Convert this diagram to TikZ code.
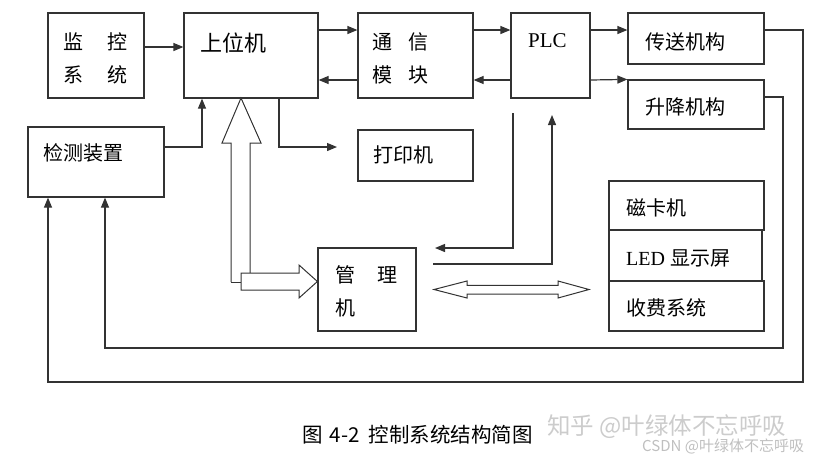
\documentclass[tikz,border=0pt]{standalone}
\usepackage{fontspec}
\setmainfont{Liberation Serif}
\newfontfamily\cjk{Noto Sans CJK SC}
\usetikzlibrary{arrows.meta}
\definecolor{ln}{HTML}{333333}
\tikzset{
  box/.style={draw=ln, line width=1.2pt, rectangle, inner sep=0pt},
  lbl/.style={inner sep=0pt, anchor=west, font=\cjk\fontsize{20}{20}\selectfont},
  arr/.style={draw=ln, line width=1.2pt, -{Triangle[length=10pt,width=8pt]}},
  conn/.style={draw=ln, line width=1.2pt},
  hollow/.style={draw=ln, line width=1pt, fill=white}
}
\begin{document}
\begin{tikzpicture}[x=1pt,y=-1pt]
\useasboundingbox (0,0) rectangle (837,461);
% boxes
\node[box, minimum width=96pt, minimum height=85pt] (mon) at (96,55.5) {};
\node[box, minimum width=134pt, minimum height=85pt] (upc) at (251,55.5) {};
\node[box, minimum width=115pt, minimum height=85pt] (com) at (415.5,55.5) {};
\node[box, minimum width=79pt, minimum height=85pt] (plc) at (550.5,55.5) {};
\node[box, minimum width=136pt, minimum height=51pt] (tra) at (696,38.5) {};
\node[box, minimum width=136pt, minimum height=49pt] (lif) at (696,104.5) {};
\node[box, minimum width=136pt, minimum height=70pt] (det) at (96,162) {};
\node[box, minimum width=115pt, minimum height=51pt] (prt) at (415.5,155.5) {};
\node[box, minimum width=98pt, minimum height=83pt] (mgr) at (367,289.5) {};
\node[box, minimum width=155pt, minimum height=49pt] (card) at (686.5,205.5) {};
\node[box, minimum width=153pt, minimum height=51pt] (led) at (685.5,255.5) {};
\node[box, minimum width=155pt, minimum height=50pt] (fee) at (686.5,306) {};
% labels
\node[lbl] (t1) at (63,42) {监};
\node[lbl] (t2) at (107,42) {控};
\node[lbl] (t3) at (63,75) {系};
\node[lbl] (t4) at (107,75) {统};
\node[lbl, font=\cjk\fontsize{22}{22}\selectfont] (t5) at (200,43) {上位机};
\node[lbl] (t6) at (372,42) {通};
\node[lbl] (t7) at (408,42) {信};
\node[lbl] (t8) at (372,75) {模};
\node[lbl] (t9) at (408,75) {块};
\node[lbl, font=\fontsize{21}{21}\selectfont] (t10) at (528,41) {PLC};
\node[lbl] (t11) at (645,42) {传送机构};
\node[lbl] (t12) at (645,107) {升降机构};
\node[lbl] (t13) at (43,153) {检测装置};
\node[lbl] (t14) at (373,155) {打印机};
\node[lbl] (t15) at (335,275) {管};
\node[lbl] (t16) at (377,275) {理};
\node[lbl] (t17) at (335,308) {机};
\node[lbl] (t18) at (626,208) {磁卡机};
\node[lbl, font=\fontsize{20}{20}\selectfont] (t19) at (626,258) {LED {\cjk 显示屏}};
\node[lbl] (t20) at (626,308) {收费系统};
% caption and watermarks
\node[lbl, font=\cjk\fontsize{20.5}{20.5}\selectfont] (cap) at (302,435) {图\hspace{7pt}4-2\hspace{9pt}控制系统结构简图};
\node[lbl, text=black!20, font=\cjk\fontsize{23.5}{23.5}\selectfont] (wm1) at (547,427) {知乎 @叶绿体不忘呼吸};
\node[lbl, text=black!25, font=\cjk\fontsize{15}{15}\selectfont] (wm2) at (642,446) {CSDN @叶绿体不忘呼吸};
% free coordinates
\coordinate (p1) at (337,147);
\coordinate (q1) at (513,113);
\coordinate (q2) at (435,248);
\coordinate (r1) at (433,264);
\coordinate (r2) at (552,115);
% connectors
\draw[arr] (mon.east |- 0,47) -- (upc.west |- 0,47);
\draw[arr] (upc.east |- 0,30) -- (com.west |- 0,30);
\draw[arr] (com.west |- 0,80) -- (upc.east |- 0,80);
\draw[arr] (com.east |- 0,30) -- (plc.west |- 0,30);
\draw[arr] (plc.west |- 0,80) -- (com.east |- 0,80);
\draw[arr] (plc.east |- 0,30) -- (tra.west |- 0,30);
\draw[arr] (plc.east |- 0,80) -- (lif.north west);
\draw[arr] (det.east |- 0,147) -| (202,0 |- upc.south);
\draw[arr] (279,0 |- upc.south) |- (p1);
\draw[arr] (tra.east |- 0,30) -| (803,382) -| (48,0 |- det.south);
\draw[arr] (lif.east |- 0,97) -| (783,348) -| (105,0 |- det.south);
\draw[arr] (q1) |- (q2);
\draw[arr] (r1) -| (r2);
% hollow arrows
\draw[hollow] (231,282) -- (231,143) -- (222,143) -- (241,98) -- (261,143) -- (250,143) -- (250,273);
\draw[hollow] (231,282) -- (241,282);
\draw[hollow] (241,273) -- (299,273) -- (299,265) -- (mgr.west |- 0,281.5) -- (299,298) -- (299,290) -- (241,290) -- cycle;
\draw[hollow] (434,289.5) -- (467,281) -- (467,285.3) -- (558,285.3) -- (558,281) -- (589,289.5) -- (558,298) -- (558,294) -- (467,294) -- (467,298) -- cycle;
\end{tikzpicture}
\end{document}
